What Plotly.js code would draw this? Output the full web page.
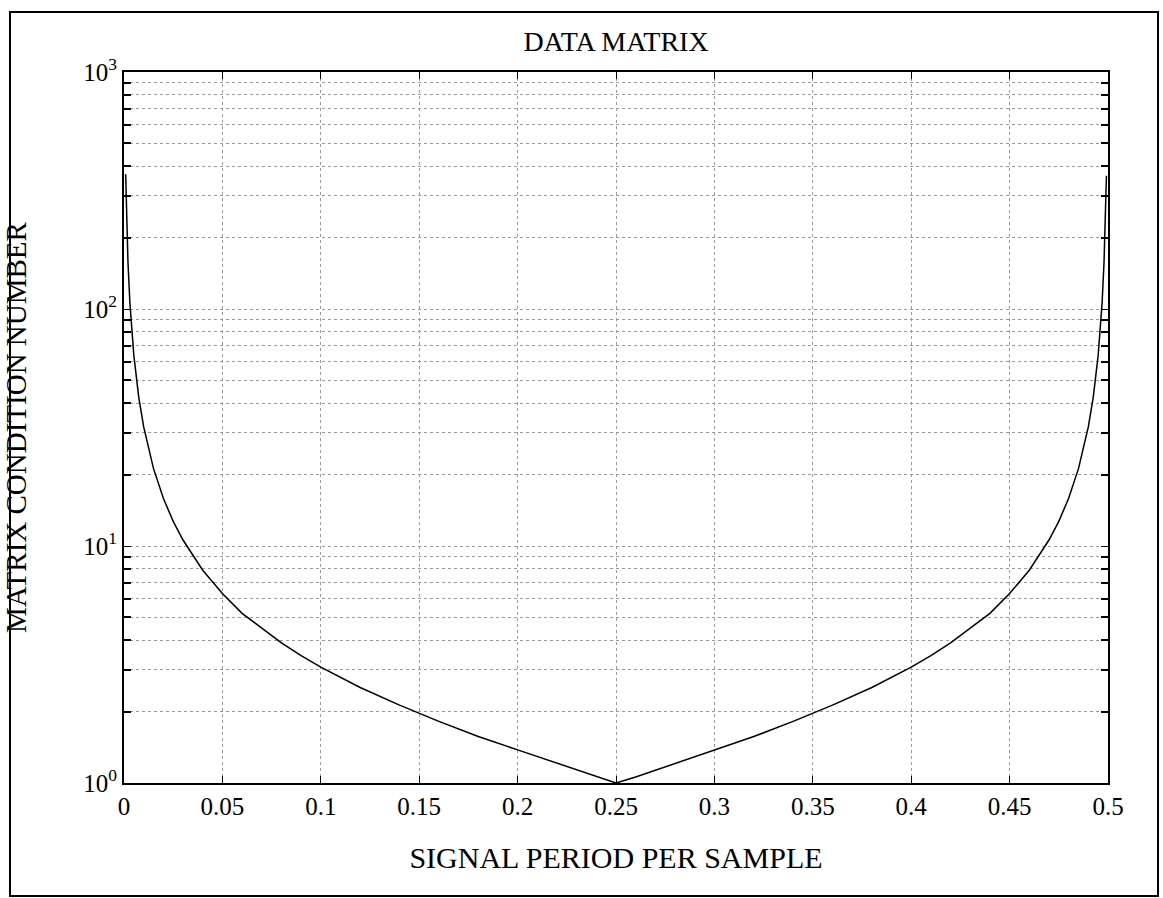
<!DOCTYPE html>
<html>
<head>
<meta charset="utf-8">
<script src="https://cdn.plot.ly/plotly-3.0.1.min.js"></script>
<style>
html,body{margin:0;padding:0;background:#fff;}
#chart{width:1163px;height:898px;}
</style>
</head>
<body>
<div id="chart"></div>
<script>
// Signal period per sample (x) and matrix condition number (y)
const period = [0.00085, 0.002, 0.003, 0.005, 0.0075, 0.01, 0.015, 0.02, 0.025, 0.03,
  0.04, 0.05, 0.06, 0.07, 0.08, 0.09, 0.10, 0.12, 0.14, 0.16, 0.18, 0.20, 0.22, 0.24,
  0.25, 0.26, 0.28, 0.30, 0.32, 0.34, 0.36, 0.38, 0.40, 0.41, 0.42, 0.43, 0.44, 0.45,
  0.46, 0.47, 0.475, 0.48, 0.485, 0.49, 0.4925, 0.495, 0.497, 0.498, 0.499, 0.4992];
const conditionNumber = [370, 159, 106, 63.7, 42.4, 31.8, 21.2, 15.9, 12.7, 10.6,
  7.9, 6.3, 5.2, 4.5, 3.9, 3.45, 3.08, 2.53, 2.13, 1.82, 1.57, 1.38, 1.21, 1.06,
  1.0, 1.06, 1.21, 1.38, 1.57, 1.82, 2.13, 2.53, 3.08, 3.45, 3.9, 4.5, 5.2, 6.3,
  7.9, 10.6, 12.7, 15.9, 21.2, 31.8, 42.4, 63.7, 106, 159, 318, 365];

const xTickVals = [0, 0.05, 0.1, 0.15, 0.2, 0.25, 0.3, 0.35, 0.4, 0.45, 0.5];
const xTickText = ['0', '0.05', '0.1', '0.15', '0.2', '0.25', '0.3', '0.35', '0.4', '0.45', '0.5'];
const yTickVals = [1, 10, 100, 1000];
const yTickText = ['10<sup>0</sup>', '10<sup>1</sup>', '10<sup>2</sup>', '10<sup>3</sup>'];
const yMinorVals = [2, 3, 4, 5, 6, 7, 8, 9, 20, 30, 40, 50, 60, 70, 80, 90, 200, 300, 400, 500, 600, 700, 800, 900];

const serif = 'Liberation Serif, Times New Roman, serif';

const trace = {
  x: period,
  y: conditionNumber,
  type: 'scatter',
  mode: 'lines',
  line: {color: '#000', width: 1.5},
  hoverinfo: 'x+y'
};

const layout = {
  width: 1163,
  height: 898,
  margin: {l: 124, r: 55, t: 72, b: 115},
  paper_bgcolor: '#fff',
  plot_bgcolor: '#fff',
  showlegend: false,
  font: {family: serif, color: '#000'},
  title: {
    text: 'DATA MATRIX',
    font: {family: serif, size: 28, color: '#000'},
    x: 0.5, xref: 'paper', xanchor: 'center',
    y: 1 - 41 / 898, yref: 'container', yanchor: 'middle'
  },
  xaxis: {
    range: [0, 0.5],
    tickmode: 'array',
    tickvals: xTickVals,
    ticktext: xTickText,
    ticks: 'inside',
    ticklen: 7,
    tickwidth: 1,
    tickcolor: '#000',
    showline: true,
    linecolor: '#000',
    linewidth: 2,
    mirror: 'ticks',
    showgrid: true,
    gridcolor: '#9a9a9a',
    griddash: 'dot',
    gridwidth: 1,
    zeroline: false,
    tickfont: {family: serif, size: 25, color: '#000'},
    title: {
      text: 'SIGNAL PERIOD PER SAMPLE',
      font: {family: serif, size: 30, color: '#000'},
      standoff: 28
    }
  },
  yaxis: {
    type: 'log',
    range: [0, 3],
    tickmode: 'array',
    tickvals: yTickVals,
    ticktext: yTickText,
    ticks: 'inside',
    ticklen: 7,
    tickwidth: 1,
    tickcolor: '#000',
    showline: true,
    linecolor: '#000',
    linewidth: 2,
    mirror: 'ticks',
    showgrid: true,
    gridcolor: '#9a9a9a',
    griddash: 'dot',
    gridwidth: 1,
    zeroline: false,
    tickfont: {family: serif, size: 25, color: '#000'},
    minor: {
      tickmode: 'array',
      tickvals: yMinorVals,
      ticks: 'inside',
      ticklen: 7,
      tickwidth: 2,
      tickcolor: '#000',
      showgrid: true,
      gridcolor: '#9a9a9a',
      griddash: 'dot',
      gridwidth: 1
    },
    title: {
      text: 'MATRIX CONDITION NUMBER',
      font: {family: serif, size: 29, color: '#000'},
      standoff: 52
    }
  },
  shapes: [{
    type: 'rect',
    xref: 'paper', yref: 'paper',
    x0: (10 - 124) / 984, x1: (1158 - 124) / 984,
    y0: (783 - 896) / 711, y1: (783 - 12) / 711,
    line: {color: '#000', width: 2},
    fillcolor: 'rgba(0,0,0,0)',
    layer: 'below'
  }]
};

Plotly.newPlot('chart', [trace], layout, {displayModeBar: false, staticPlot: true});
</script>
</body>
</html>
